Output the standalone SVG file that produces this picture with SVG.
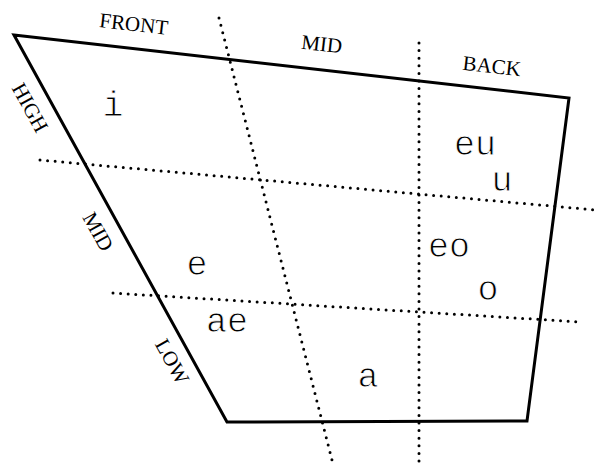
<svg xmlns="http://www.w3.org/2000/svg" width="597" height="466" viewBox="0 0 597 466">
<style>
.frame{fill:none;stroke:#000;stroke-width:3;stroke-linejoin:miter}
.dot{fill:none;stroke:#000;stroke-width:3;stroke-linecap:round;stroke-dasharray:0 7.6}
.lab{font-family:"Liberation Serif",serif;font-size:21px;fill:#000;text-anchor:middle}
.v{font-family:"Liberation Mono","Courier New",monospace;font-size:35px;fill:#000;text-anchor:middle;stroke:#fff;stroke-width:0.9}
</style>
<rect width="597" height="466" fill="#fff"/>
<g id="connectors">
<line class="dot" x1="219" y1="18" x2="333" y2="464"/>
<line class="dot" x1="419" y1="43" x2="419" y2="464"/>
<line class="dot" x1="40" y1="160" x2="596" y2="210"/>
<line class="dot" x1="113" y1="293" x2="581" y2="322"/>
</g>
<g id="chart">
<polygon class="frame" points="14,35 569,98 527,421 227,422"/>
</g>
<g id="labels">
<text class="lab" transform="translate(133,31) rotate(6.5)">FRONT</text>
<text class="lab" transform="translate(321,51) rotate(6.5)">MID</text>
<text class="lab" transform="translate(491,73) rotate(6.5)">BACK</text>
<text class="lab" transform="translate(24,111) rotate(61)">HIGH</text>
<text class="lab" transform="translate(92,235) rotate(61)">MID</text>
<text class="lab" transform="translate(166,365) rotate(61)">LOW</text>
</g>
<g id="vowels">
<text class="v" x="113" y="116">i</text>
<text class="v" x="475" y="155">eu</text>
<text class="v" x="502" y="191">u</text>
<text class="v" x="197" y="275">e</text>
<text class="v" x="449" y="257">eo</text>
<text class="v" x="488" y="300">o</text>
<text class="v" x="227" y="332">ae</text>
<text class="v" x="368" y="387">a</text>
</g>
</svg>
